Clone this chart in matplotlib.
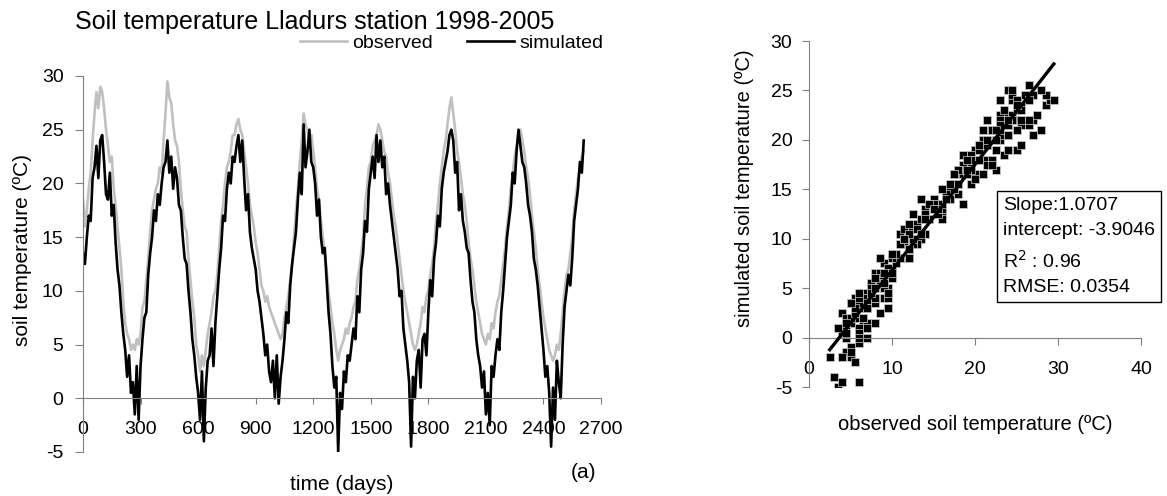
import numpy as np
import matplotlib.pyplot as plt

plt.rcParams['font.family'] = ['Liberation Sans', 'DejaVu Sans']
plt.rcParams['axes.unicode_minus'] = False

# daily soil temperature, every 10 days
days = np.arange(0, 2620, 10)

observed = [
    18.5, 16.0, 17.5, 19.5, 21.0, 24.0, 26.5, 28.5, 27.0, 29.0,
    28.5, 27.0, 25.0, 23.5, 22.0, 22.5, 19.5, 18.0, 16.0, 14.0,
    12.0, 9.0, 7.0, 6.0, 5.5, 4.5, 5.0, 4.5, 5.5, 5.0,
    6.0, 8.5, 9.0, 11.0, 13.0, 15.5, 17.5, 18.5, 19.5, 20.0,
    21.5, 21.0, 24.0, 26.5, 29.5, 28.0, 27.5, 25.5, 24.0, 23.5,
    22.0, 19.5, 17.5, 16.0, 15.5, 13.0, 11.0, 9.0, 7.5, 5.0,
    4.0, 2.5, 4.0, 3.0, 4.5, 6.0, 7.0, 8.0, 9.5, 10.0,
    11.5, 14.0, 16.5, 18.0, 20.0, 21.5, 22.0, 23.0, 24.5, 24.5,
    25.5, 26.0, 25.0, 24.5, 23.0, 21.5, 20.0, 18.0, 17.0, 16.0,
    14.5, 13.5, 12.0, 10.5, 10.0, 9.0, 9.5, 8.5, 8.0, 7.5,
    7.0, 6.5, 6.0, 5.5, 6.0, 7.5, 8.5, 9.5, 11.0, 12.5,
    15.0, 17.5, 19.5, 22.0, 24.0, 26.5, 25.5, 25.0, 24.0, 24.5,
    23.0, 21.5, 19.5, 18.5, 16.5, 15.0, 13.5, 12.0, 10.0, 8.5,
    7.0, 6.0, 4.5, 3.5, 4.5, 5.0, 5.5, 6.5, 6.0, 7.0,
    7.5, 8.5, 9.0, 11.0, 12.0, 13.5, 15.0, 18.0, 19.5, 21.5,
    22.0, 23.5, 24.0, 24.5, 25.5, 25.0, 24.0, 23.0, 22.5, 21.0,
    20.0, 18.5, 17.0, 16.0, 14.5, 13.0, 11.5, 10.0, 9.0, 8.0,
    7.0, 6.0, 5.0, 4.5, 5.0, 6.0, 7.0, 8.5, 8.0, 9.5,
    10.0, 11.5, 12.5, 14.0, 16.5, 18.0, 20.0, 21.5, 23.0, 24.0,
    25.5, 27.0, 28.0, 26.5, 25.0, 23.0, 22.0, 20.5, 19.0, 18.0,
    16.5, 14.5, 13.0, 12.0, 10.5, 9.0, 8.0, 7.0, 6.0, 5.5,
    5.0, 6.0, 5.5, 7.0, 6.5, 8.0, 9.0, 9.5, 11.0, 12.5,
    14.0, 16.0, 17.5, 19.5, 21.0, 22.5, 23.5, 24.5, 25.0, 24.0,
    23.0, 21.5, 20.5, 19.0, 17.0, 15.5, 14.0, 12.0, 10.5, 9.0,
    7.5, 6.5, 5.5, 4.5, 4.0, 3.5, 4.0, 5.0, 4.5, 6.0,
    8.0, 10.0, 11.5, 12.0, 13.5, 15.0, 17.5, 19.0, 20.5, 21.5,
    22.5, 23.0,
]

simulated = [
    13.5, 12.5, 15.0, 17.0, 16.5, 20.5, 21.5, 23.5, 20.5, 24.0,
    24.5, 22.0, 19.0, 18.5, 21.0, 17.0, 18.0, 14.5, 12.0, 10.5,
    8.0, 6.0, 4.5, 2.0, 4.0, 0.5, 1.5, -1.5, 3.0, -2.0,
    3.0, 5.5, 7.5, 8.0, 11.5, 13.5, 15.0, 17.5, 16.5, 19.0,
    18.0, 20.0, 21.5, 22.0, 24.0, 21.0, 22.5, 19.5, 21.5, 20.5,
    18.0, 17.5, 15.0, 13.0, 12.5, 10.0, 8.0, 5.5, 4.0, 2.0,
    0.5, -2.0, 2.5, -4.0, 1.0, 3.5, 4.0, 6.5, 3.0, 7.0,
    9.5, 12.0, 14.0, 17.0, 16.5, 19.5, 21.0, 20.0, 22.5, 22.0,
    23.5, 24.5, 22.0, 24.0, 20.5, 17.5, 19.0, 15.5, 14.0, 13.0,
    12.0, 10.0, 9.0, 7.5, 6.0, 4.0, 5.0, 2.5, 1.5, 3.5,
    0.0, 4.0, -0.5, 2.0, 3.5, 5.5, 8.0, 7.0, 10.5, 12.5,
    14.0, 15.5, 18.5, 21.0, 19.0, 25.5, 21.5, 23.0, 25.0, 22.0,
    21.5, 20.0, 17.0, 18.5, 15.0, 13.5, 14.0, 11.0, 8.0, 6.0,
    3.0, 1.0, 2.0, -5.0, 0.5, -1.0, 2.5, 1.5, 4.0, 3.5,
    5.0, 6.5, 5.5, 9.5, 8.0, 12.0, 13.5, 16.5, 15.5, 19.5,
    21.0, 22.5, 20.5, 24.5, 22.0, 24.0, 21.5, 22.5, 19.0, 20.0,
    18.0, 16.5, 15.0, 13.5, 12.0, 9.5, 10.0, 6.5, 5.0, 3.5,
    1.5, -4.5, 2.0, 0.0, 3.5, 4.5, 1.0, 5.5, 6.0, 4.0,
    8.0, 11.0, 9.5, 13.0, 14.5, 17.0, 16.0, 19.5, 21.0, 22.0,
    23.0, 24.5, 25.0, 24.0, 21.0, 22.0, 17.5, 19.0, 16.5, 15.5,
    14.0, 13.5, 11.0, 9.0, 8.0, 5.5, 4.0, 3.0, 1.0, 2.5,
    -1.5, 0.5, -2.5, 3.0, 2.0, 4.0, 5.5, 4.5, 8.0, 10.0,
    12.5, 15.0, 16.5, 18.0, 21.0, 20.0, 23.0, 25.0, 23.5, 22.0,
    21.5, 20.0, 18.0, 17.0, 15.5, 13.0, 12.0, 10.5, 8.5, 6.5,
    4.5, 2.0, 3.0, 0.5, -4.5, 1.0, -2.0, 3.5, 1.5, 0.0,
    5.0, 8.5, 10.0, 11.5, 10.5, 13.0, 16.5, 18.0, 19.5, 22.0,
    21.0, 24.0,
]

slope = 1.0707
intercept = -3.9046
r2 = 0.96
rmse = 0.0354

fig = plt.figure(figsize=(11.67, 4.96), dpi=100)
axis_grey = '#808080'

# left panel: time series
ax1 = fig.add_axes([83 / 1167, 1 - 452 / 496, 518 / 1167, 376 / 496])
ax1.plot(days, observed, color='#c0c0c0', lw=1.9, label='observed')
ax1.plot(days, simulated, color='black', lw=1.9, label='simulated')
ax1.set_xlim(0, 2700)
ax1.set_ylim(-5, 30)
ax1.set_xticks(np.arange(0, 2701, 300))
ax1.set_yticks(np.arange(-5, 31, 5))
ax1.spines['top'].set_visible(False)
ax1.spines['right'].set_visible(False)
ax1.spines['bottom'].set_position(('data', 0))
for s in ['left', 'bottom']:
    ax1.spines[s].set_color(axis_grey)
ax1.tick_params(axis='x', direction='out', length=4, pad=12, labelsize=14, color=axis_grey)
ax1.tick_params(axis='y', direction='out', length=6, pad=8, labelsize=14, color=axis_grey)

fig.text(75 / 1167, 1 - 22 / 496, 'Soil temperature Lladurs station 1998-2005',
         fontsize=18, ha='left', va='center')
fig.text(23 / 1167, 1 - 250 / 496, 'soil temperature (ºC)', rotation=90,
         fontsize=15, ha='center', va='center')
fig.text(342 / 1167, 1 - 485 / 496, 'time (days)', fontsize=15, ha='center', va='center')
fig.text(583 / 1167, 1 - 472 / 496, '(a)', fontsize=15, ha='center', va='center')
fig.legend(loc='center right', bbox_to_anchor=(603 / 1167, 1 - 43 / 496), ncol=2,
           frameon=False, fontsize=14, handlelength=2.4, handletextpad=0.25,
           columnspacing=1.8, borderpad=0, borderaxespad=0)

# right panel: observed vs simulated
ax2 = fig.add_axes([809 / 1167, 1 - 387 / 496, 332 / 1167, 346 / 496])
ax2.scatter(observed, simulated, marker='s', s=30, c='black',
            edgecolors='#d0d0d0', linewidths=0.5, zorder=2)
fit_x = np.array([min(observed), max(observed)])
ax2.plot(fit_x, slope * fit_x + intercept, color='black', lw=2.4, zorder=3)
ax2.set_xlim(0, 40)
ax2.set_ylim(-5, 30)
ax2.set_xticks(np.arange(0, 41, 10))
ax2.set_yticks(np.arange(-5, 31, 5))
ax2.spines['top'].set_visible(False)
ax2.spines['right'].set_visible(False)
ax2.spines['bottom'].set_position(('data', 0))
for s in ['left', 'bottom']:
    ax2.spines[s].set_color(axis_grey)
ax2.tick_params(axis='x', direction='out', length=5, pad=12, labelsize=14, color=axis_grey)
ax2.tick_params(axis='y', direction='out', length=5, pad=7, labelsize=14, color=axis_grey)

stats = f'Slope:{slope}\nintercept: {intercept}\nR$^2$ : {r2}\nRMSE: {rmse}'
fig.text(1003 / 1167, 1 - 197 / 496, stats, fontsize=14, ha='left', va='top',
         linespacing=1.6,
         bbox=dict(boxstyle='square,pad=0.3', facecolor='white', edgecolor='black', lw=1))
fig.text(745 / 1167, 1 - 188 / 496, 'simulated soil temperature (ºC)', rotation=90,
         fontsize=14.5, ha='center', va='center')
fig.text(975 / 1167, 1 - 425 / 496, 'observed soil temperature (ºC)',
         fontsize=14.5, ha='center', va='center')

fig.savefig('out.png', dpi=100)
